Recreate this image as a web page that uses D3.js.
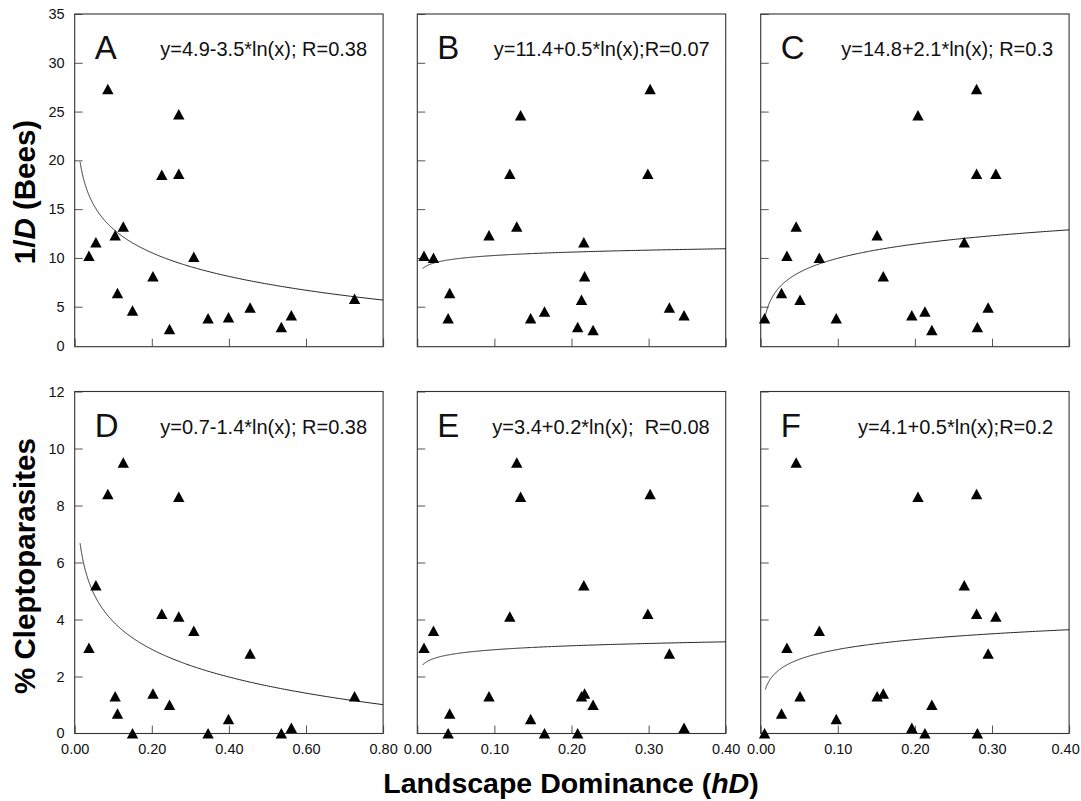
<!DOCTYPE html>
<html>
<head>
<meta charset="utf-8">
<script src="https://cdn.jsdelivr.net/npm/d3@7"></script>
<style>
    body { margin: 0; background: #fff; }
    svg { font-family: "Liberation Sans", Arial, sans-serif; }
</style>
</head>
<body>
<svg id="chart" width="1081" height="801"></svg>
<script>
// Landscape dominance (hD) and response values, one pair of arrays per panel
const hdA = [0.037, 0.055, 0.086, 0.105, 0.111, 0.126, 0.150, 0.203, 0.226, 0.246, 0.270, 0.270, 0.309, 0.346, 0.399, 0.455, 0.536, 0.562, 0.726];
const beesA = [10.2, 11.6, 27.3, 12.3, 6.4, 13.2, 4.6, 8.1, 18.5, 2.7, 24.7, 18.6, 10.1, 3.8, 3.9, 4.9, 2.9, 4.1, 5.8];

const hdB = [0.0087, 0.021, 0.042, 0.040, 0.093, 0.120, 0.129, 0.134, 0.147, 0.165, 0.208, 0.213, 0.216, 0.217, 0.228, 0.299, 0.302, 0.327, 0.346];
const beesB = [10.2, 10.0, 6.4, 3.8, 12.3, 18.6, 13.2, 24.6, 3.8, 4.5, 2.9, 5.7, 11.6, 8.1, 2.6, 18.6, 27.3, 4.9, 4.1];

const hdC = [0.005, 0.027, 0.034, 0.046, 0.051, 0.076, 0.098, 0.151, 0.159, 0.196, 0.204, 0.213, 0.222, 0.264, 0.280, 0.280, 0.281, 0.295, 0.305];
const beesC = [3.8, 6.4, 10.2, 13.2, 5.7, 10.0, 3.8, 12.3, 8.1, 4.1, 24.6, 4.5, 2.6, 11.6, 27.3, 18.6, 2.9, 4.9, 18.6];

const hdD = [0.037, 0.055, 0.086, 0.105, 0.111, 0.126, 0.150, 0.203, 0.226, 0.246, 0.270, 0.270, 0.309, 0.346, 0.399, 0.455, 0.536, 0.562, 0.726];
const cleptoD = [3.0, 5.2, 8.4, 1.3, 0.7, 9.5, 0, 1.4, 4.2, 1.0, 8.3, 4.1, 3.6, 0, 0.5, 2.8, 0, 0.2, 1.3];

const hdE = [0.0087, 0.021, 0.042, 0.040, 0.093, 0.120, 0.129, 0.134, 0.147, 0.165, 0.208, 0.213, 0.216, 0.217, 0.228, 0.299, 0.302, 0.327, 0.346];
const cleptoE = [3.0, 3.6, 0.7, 0, 1.3, 4.1, 9.5, 8.3, 0.5, 0, 0, 1.3, 5.2, 1.4, 1.0, 4.2, 8.4, 2.8, 0.2];

const hdF = [0.005, 0.027, 0.034, 0.046, 0.051, 0.076, 0.098, 0.151, 0.159, 0.196, 0.204, 0.213, 0.222, 0.264, 0.280, 0.280, 0.281, 0.295, 0.305];
const cleptoF = [0, 0.7, 3.0, 9.5, 1.3, 3.6, 0.5, 1.3, 1.4, 0.2, 8.3, 0, 1.0, 5.2, 8.4, 4.2, 0, 2.8, 4.1];

// Fitted curves y = a + b*ln(x)
const fitA = [4.9, 11.4, 14.8, 0.7, 3.4, 4.1];
const fitB = [-3.5, 0.5, 2.1, -1.4, 0.2, 0.5];
const fitStart = [0.014, 0.0069, 0.005, 0.014, 0.0069, 0.006];

const letters = ["A", "B", "C", "D", "E", "F"];
const equations = [
    "y=4.9-3.5*ln(x); R=0.38",
    "y=11.4+0.5*ln(x);R=0.07",
    "y=14.8+2.1*ln(x); R=0.3",
    "y=0.7-1.4*ln(x); R=0.38",
    "y=3.4+0.2*ln(x);  R=0.08",
    "y=4.1+0.5*ln(x);R=0.2"
];

const xMax = [0.8, 0.4, 0.4];
const xTicksWide = [0, 0.2, 0.4, 0.6, 0.8];
const xTicksNarrow = [0, 0.1, 0.2, 0.3, 0.4];
const yTicksBees = [0, 5, 10, 15, 20, 25, 30, 35];
const yTicksClepto = [0, 2, 4, 6, 8, 10, 12];

const xs = [hdA, hdB, hdC, hdD, hdE, hdF];
const ys = [beesA, beesB, beesC, cleptoD, cleptoE, cleptoF];

// layout
const colLeft = [74.7, 417.3, 760.7];
const panelW = 308.4;
const rows = [
    { top: 14, bottom: 346.7, y0: 355.5, max: 35, ticks: yTicksBees },
    { top: 391.5, bottom: 733.5, y0: 733.5, max: 12, ticks: yTicksClepto }
];

const svg = d3.select("#chart");

for (let i = 0; i < 6; i++) {
    const col = i % 3, r = rows[Math.floor(i / 3)], bottomRow = i >= 3;
    const left = colLeft[col];

    const x = d3.scaleLinear().domain([0, xMax[col]]).range([left, left + panelW]);
    const y = d3.scaleLinear().domain([0, r.max]).range([r.y0, r.top]);

    const g = svg.append("g");

    // x ticks (inward)
    const xa = g.append("g")
        .attr("transform", `translate(0,${r.bottom})`)
        .call(d3.axisBottom(x)
            .tickValues(col === 0 ? xTicksWide : xTicksNarrow)
            .tickSizeInner(-8).tickSizeOuter(0).tickPadding(10)
            .tickFormat(bottomRow ? d3.format(".2f") : ""));
    xa.select(".domain").remove();
    // last label of the right column is pulled in a little so it stays on the page
    if (bottomRow && col === 2) {
        xa.selectAll(".tick").filter(d => d === 0.4).select("text").attr("dx", "-4");
    }

    // y ticks (inward)
    const ya = g.append("g")
        .attr("transform", `translate(${left},0)`)
        .call(d3.axisLeft(y)
            .tickValues(r.ticks)
            .tickSizeInner(-8).tickSizeOuter(0).tickPadding(10)
            .tickFormat(col === 0 ? d3.format("d") : ""));
    ya.select(".domain").remove();
    // zero label of the top row sits on the frame bottom
    ya.selectAll(".tick").filter(d => d === 0)
        .attr("transform", `translate(0,${r.bottom})`)
        .select("line").remove();

    [xa, ya].forEach(a => {
        a.attr("font-size", 14.5).attr("font-family", null);
        a.selectAll("line").attr("stroke", "#555");
        a.selectAll("text").attr("fill", "#111");
    });

    // frame
    g.append("rect")
        .attr("x", left).attr("y", r.top)
        .attr("width", panelW).attr("height", r.bottom - r.top)
        .attr("fill", "none").attr("stroke", "#333").attr("stroke-width", 1.1);

    // fitted curve
    const a = fitA[i], b = fitB[i];
    const x0 = fitStart[i], x1 = xMax[col];
    const curvePts = d3.range(0, 401).map(k => {
        const xv = x0 * Math.pow(x1 / x0, k / 400);
        return [xv, a + b * Math.log(xv)];
    });
    g.append("path")
        .attr("d", d3.line().x(d => x(d[0])).y(d => y(d[1]))(curvePts))
        .attr("fill", "none").attr("stroke", "#222").attr("stroke-width", 1);

    // triangles
    const pts = xs[i].map((v, k) => ({ hd: v, val: ys[i][k] }));
    g.selectAll("path.tri").data(pts).enter().append("path")
        .attr("class", "tri")
        .attr("d", d => {
            const cx = x(d.hd), cy = y(d.val);
            return `M${cx},${cy - 5.4}L${cx + 5.7},${cy + 5.1}L${cx - 5.7},${cy + 5.1}Z`;
        })
        .attr("fill", "#000");

    // panel letter and equation
    g.append("text")
        .attr("x", left + 20).attr("y", r.top + 45)
        .attr("font-size", 33).attr("fill", "#111")
        .text(letters[i]);

    g.append("text")
        .attr("x", left + panelW - 16).attr("y", r.top + 42)
        .attr("text-anchor", "end")
        .attr("font-size", 20).attr("fill", "#111")
        .style("white-space", "pre")
        .text(equations[i]);
}

// axis titles
const t1 = svg.append("text")
    .attr("transform", "translate(35,192) rotate(-90)")
    .attr("text-anchor", "middle").attr("font-size", 29.5).attr("font-weight", "bold");
t1.append("tspan").text("1/");
t1.append("tspan").attr("font-style", "italic").text("D");
t1.append("tspan").text(" (Bees)");

svg.append("text")
    .attr("transform", "translate(35,566) rotate(-90)")
    .attr("text-anchor", "middle").attr("font-size", 29.5).attr("font-weight", "bold")
    .text("% Cleptoparasites");

const t3 = svg.append("text")
    .attr("x", 571).attr("y", 793)
    .attr("text-anchor", "middle").attr("font-size", 28.5).attr("font-weight", "bold");
t3.append("tspan").text("Landscape Dominance (");
t3.append("tspan").attr("font-style", "italic").text("hD");
t3.append("tspan").text(")");
</script>
</body>
</html>
